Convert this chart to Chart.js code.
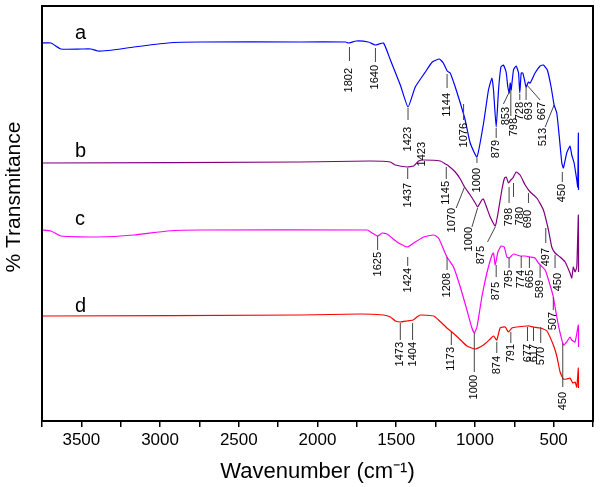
<!DOCTYPE html>
<html>
<head>
<meta charset="utf-8">
<script src="https://cdn.jsdelivr.net/npm/chart.js@4"></script>
<style>
  body { margin: 0; background: #fff; }
  canvas { display: block; }
</style>
</head>
<body>
<canvas id="ftirChart" width="600" height="487"></canvas>
<script>
// spectrum a (blue)
const waveA = [3750,3693,3630,3500,3439,3395,3300,3167,2951,2742,2108,1822,1803,1753,1677,1632,1581,1537,1474,1425,1379,1315,1271,1226,1201,1176,1157,1125,1093,1062,1030,987,945,914,892,882,865,850,835,819,802,791,782,776,770,755,738,723,715,706,696,685,675,660,649,618,586,565,540,516,497,480,464,448,438,417,396,385,370,353,347,343,342];
const transA = [378,378,372,372,372,370,371,374,378,379,379,379,378,380,379,376,378,361,336,314,334,349,359,362,358,350,348,334,318,301,278,264,298,331,343,331,294,331,354,356,349,334,328,338,331,351,355,348,328,348,348,341,334,339,338,348,355,356,351,334,316,308,284,258,253,268,275,266,258,241,234,288,231];

// spectrum b (purple)
const waveB = [3750,2108,1664,1537,1505,1431,1389,1358,1326,1220,1188,1167,1125,1093,1066,1030,998,983,956,946,924,903,871,850,829,812,801,787,772,759,738,713,681,649,607,565,533,512,491,459,427,396,385,375,364,353,343,342];
const transB = [258,259,260,259,256,254,255,260,261,260,257,255,249,242,234,226,218,214,221,222,213,204,195,211,231,243,244,238,241,243,249,246,236,229,223,211,191,174,168,164,159,148,143,154,149,154,206,149];

// spectrum c (magenta)
const waveC = [3750,3693,3630,3395,3167,2951,2742,1685,1653,1618,1590,1558,1495,1431,1389,1326,1262,1231,1178,1136,1093,1051,1019,1004,987,956,924,892,882,871,854,833,814,797,782,755,713,681,649,618,597,554,523,502,480,459,438,417,396,385,364,343,342];
const transC = [191,190,185,184,186,190,191,191,188,185,188,187,179,174,178,184,186,183,164,154,134,111,93,88,94,124,148,166,168,156,169,175,174,164,163,167,165,165,164,163,158,151,136,124,104,88,76,79,84,81,79,96,74];

// spectrum d (red)
const waveD = [3750,2108,1727,1580,1537,1505,1474,1431,1393,1368,1347,1262,1231,1178,1146,1104,1051,998,946,903,882,861,840,808,787,765,734,670,654,629,586,543,502,480,459,438,417,396,379,364,353,343,342];
const transD = [105,106,107,106,104,100,99,100,101,104,106,105,101,93,89,83,75,72,76,82,85,81,93,94,89,93,94,95,95,94,93,90,76,65,49,42,42,43,38,39,34,53,33];

const seriesNames = ["a", "b", "c", "d"];
const seriesColors = ["#0000ff", "#800080", "#ff00ff", "#ff0000"];
// where the a/b/c/d letters sit (wavenumber, transmittance)
const nameAt = [[3541, 382], [3541, 264], [3541, 196], [3541, 109]];

// peak labels: text, marker from (x1,y1) to (x2,y2), text at x, text top y
const peakLabels = [
  ["1802",1797,374,1797,360,1797,353],
  ["1640",1632,373,1632,359,1632,356],
  ["1423",1425,313,1425,301,1425,294],
  ["1144",1177,347,1177,333,1177,328],
  ["1076",1072,317,1072,301,1072,298],
  ["1000",987,263,987,258,987,253],
  ["879",865,293,865,283,865,281],
  ["853",782,329,819,317,801,314],
  ["798",772,331,772,305,755,303],
  ["728",715,327,715,321,713,319],
  ["693",675,334,675,321,654,319],
  ["667",670,336,586,321,575,319],
  ["513",497,316,554,294,565,293],
  ["450",445,249,445,239,445,237],
  ["1437",1427,253,1427,242,1427,238],
  ["1423",null,null,null,null,1336,279],
  ["1145",1182,254,1182,242,1182,240],
  ["1070",1066,234,1119,213,1146,213],
  ["1000",983,213,1019,194,1041,194],
  ["875",871,194,920,179,962,175],
  ["798",783,234,783,218,783,213],
  ["780",755,238,755,224,713,214],
  ["690",660,228,660,218,660,211],
  ["497",550,193,550,178,550,173],
  ["450",491,166,491,153,470,148],
  ["1625",1618,185,1618,171,1618,169],
  ["1424",1427,164,1427,155,1427,153],
  ["1208",1177,164,1177,151,1177,148],
  ["875",865,156,865,144,865,139],
  ["795",783,163,783,153,783,151],
  ["774",706,165,706,153,706,151],
  ["665",654,164,654,153,649,151],
  ["589",586,156,586,143,586,141],
  ["507",502,124,502,111,502,109],
  ["1473",1474,98,1474,81,1474,79],
  ["1404",1396,98,1396,81,1396,79],
  ["1173",1150,89,1150,76,1150,74],
  ["1000",1004,88,1004,49,1004,46],
  ["874",861,79,861,68,861,65],
  ["791",772,89,772,78,772,77],
  ["677",666,94,666,80,666,77],
  ["617",628,94,628,80,628,77],
  ["570",582,94,582,78,582,74],
  ["450",442,78,442,34,442,29]
];

const FONT = "'Liberation Sans', Arial, sans-serif";
const yTitle = "% Transmitance";

function toPoints(xs, ys) {
  return xs.map((x, i) => ({ x: x, y: ys[i] }));
}

const allWaves = [waveA, waveB, waveC, waveD];
const allTrans = [transA, transB, transC, transD];

const datasets = seriesNames.map((name, i) => ({
  label: name,
  data: toPoints(allWaves[i], allTrans[i]),
  borderColor: seriesColors[i],
  borderWidth: 1.2,
  pointRadius: 0,
  tension: 0.15,
  fill: false
}));

const overlay = {
  id: "overlay",
  afterDatasetsDraw(chart) {
    const { ctx, chartArea: area, scales: { x, y } } = chart;
    ctx.save();

    // frame round the plot
    ctx.strokeStyle = "#000";
    ctx.lineWidth = 2;
    ctx.strokeRect(area.left, area.top, area.right - area.left, area.bottom - area.top);

    // peak markers and numbers
    ctx.strokeStyle = "#444";
    ctx.lineWidth = 1;
    ctx.fillStyle = "#000";
    ctx.font = "11px " + FONT;
    peakLabels.forEach(p => {
      if (p[1] !== null) {
        ctx.beginPath();
        ctx.moveTo(x.getPixelForValue(p[1]), y.getPixelForValue(p[2]));
        ctx.lineTo(x.getPixelForValue(p[3]), y.getPixelForValue(p[4]));
        ctx.stroke();
      }
      ctx.save();
      ctx.translate(x.getPixelForValue(p[5]), y.getPixelForValue(p[6]));
      ctx.rotate(-Math.PI / 2);
      ctx.textAlign = "right";
      ctx.textBaseline = "middle";
      ctx.fillText(p[0], 0, 0);
      ctx.restore();
    });

    // curve letters
    ctx.font = "20px " + FONT;
    ctx.textAlign = "left";
    ctx.textBaseline = "alphabetic";
    seriesNames.forEach((n, i) => {
      ctx.fillText(n, x.getPixelForValue(nameAt[i][0]), y.getPixelForValue(nameAt[i][1]));
    });

    // y axis title, sits a bit above the plot middle
    ctx.save();
    ctx.font = "21px " + FONT;
    ctx.translate(14, 197);
    ctx.rotate(-Math.PI / 2);
    ctx.textAlign = "center";
    ctx.textBaseline = "middle";
    ctx.fillText(yTitle, 0, 0);
    ctx.restore();

    ctx.restore();
  }
};

let ctx = document.getElementById("ftirChart").getContext("2d");

let ftirChart = new Chart(ctx, {
  type: "line",
  data: { datasets: datasets },
  options: {
    responsive: false,
    animation: false,
    events: [],
    layout: { padding: { top: 6, right: 7, left: 0, bottom: 0 } },
    plugins: { legend: { display: false }, tooltip: { enabled: false } },
    scales: {
      x: {
        type: "linear",
        reverse: true,
        min: 250,
        max: 3750,
        afterFit: s => { s.height = 66; },
        ticks: {
          stepSize: 250,
          maxTicksLimit: 30,
          autoSkip: false,
          maxRotation: 0,
          padding: 3,
          color: "#000",
          font: { family: FONT, size: 17 },
          callback: v => (v % 500 === 0 ? String(v) : "")
        },
        grid: {
          drawOnChartArea: false,
          drawTicks: true,
          tickLength: 6,
          color: "#000",
          lineWidth: 1.5
        },
        border: { color: "#000", width: 2 },
        title: {
          display: true,
          text: "Wavenumber (cm\u207B\u00B9)",
          color: "#000",
          font: { family: FONT, size: 22 },
          padding: { top: 0, bottom: 2 }
        }
      },
      y: {
        min: 0,
        max: 415,
        afterFit: s => { s.width = 42; },
        ticks: { display: false },
        grid: { drawOnChartArea: false, drawTicks: false },
        border: { color: "#000", width: 2 },
        title: { display: false }
      }
    }
  },
  plugins: [overlay]
});
</script>
</body>
</html>
